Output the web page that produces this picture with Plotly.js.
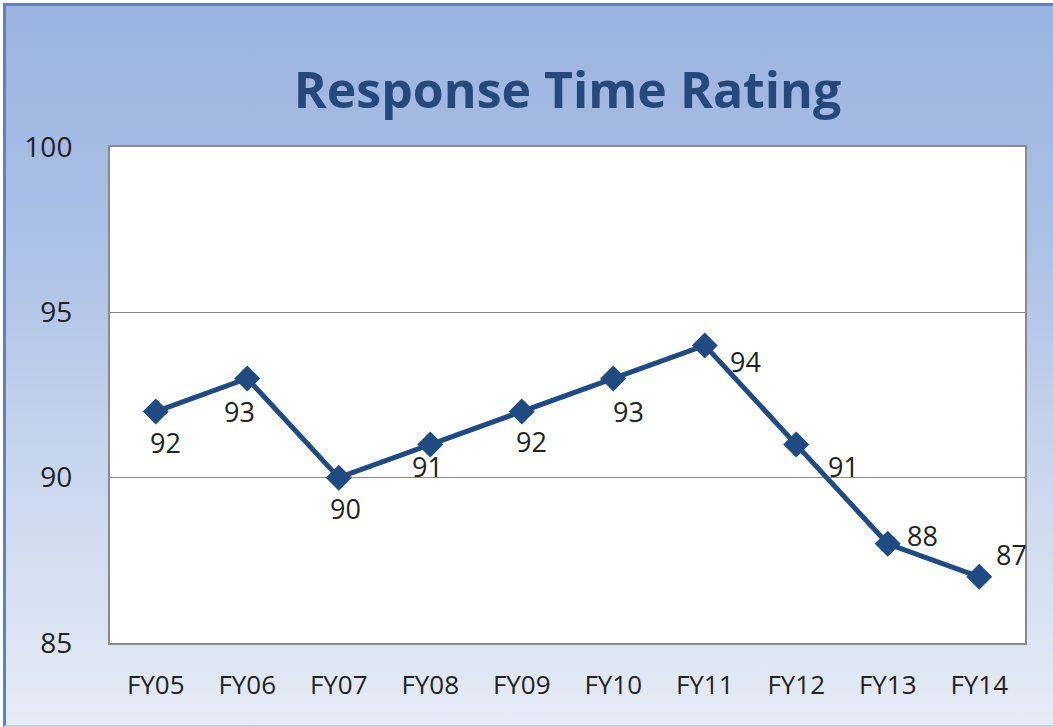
<!DOCTYPE html>
<html>
<head>
<meta charset="utf-8">
<script src="https://cdn.plot.ly/plotly-3.0.1.min.js"></script>
<style>
  html, body { margin: 0; padding: 0; }
  #wrap {
    position: relative; width: 1050px; height: 724px; box-sizing: border-box;
    background: linear-gradient(to bottom, #9bb3e1 0%, #a9bfe6 30%, #c9d6ee 65%, #e6ecf6 100%);
    border-left: 3px solid #5b82c2; border-top: 3px solid #5b82c2;
    border-bottom: 2px solid #c8cfd8;
    margin-left: 3px; margin-top: 3px;
  }
  #chart { position: absolute; left: -6px; top: -6px; width: 1053px; height: 727px; }
</style>
</head>
<body>
<div id="wrap"><div id="chart"></div></div>
<script>
const categories = ["FY05","FY06","FY07","FY08","FY09","FY10","FY11","FY12","FY13","FY14"];
const ratings = [92, 93, 90, 91, 92, 93, 94, 91, 88, 87];
const yTicks = [85, 90, 95, 100];

// label offsets in pixels (dx right, dy down) relative to each point
const labelOffsets = [[10,31],[-8,33],[7,31],[-3,22],[10,30],[15,33],[41,16],[47,22],[35,-8],[32,-22]];

const labelFont = { family: "Open Sans, Liberation Sans, sans-serif", size: 27, color: "#222" };

const trace = {
  x: categories, y: ratings, type: "scatter", mode: "lines+markers",
  line: { color: "#1f4b82", width: 5 },
  marker: { symbol: "diamond", size: 20, color: "#1f4b82" },
  cliponaxis: false, hoverinfo: "none"
};

const annotations = categories.map((c, i) => ({
  x: c, y: ratings[i], xref: "x", yref: "y", text: String(ratings[i]),
  showarrow: false, xanchor: "center", yanchor: "middle",
  xshift: labelOffsets[i][0], yshift: -labelOffsets[i][1], font: labelFont
}));

const layout = {
  width: 1053, height: 727,
  margin: { l: 110, r: 28, t: 147, b: 84 },
  paper_bgcolor: "rgba(0,0,0,0)", plot_bgcolor: "#ffffff",
  showlegend: false,
  annotations: annotations,
  title: { text: "<b>Response Time Rating</b>", x: 0.5, xref: "paper", y: 1 - 90/727, yref: "container",
           yanchor: "middle",
           font: { family: "Open Sans, Lato, sans-serif", size: 50, color: "#26497b" } },
  xaxis: { type: "category", range: [-0.5, 9.5], showgrid: false, zeroline: false, showline: true,
           linecolor: "#8a8a8a", linewidth: 2, mirror: true, ticks: "", ticklabelstandoff: 18,
           tickfont: { family: "Open Sans, Liberation Sans, sans-serif", size: 26, color: "#222" } },
  yaxis: { range: [85, 100], tickvals: yTicks, showgrid: true, gridcolor: "#8a8a8a", gridwidth: 1.3,
           zeroline: false, showline: true, linecolor: "#8a8a8a", linewidth: 2, mirror: true,
           ticks: "", ticklabelstandoff: 30,
           tickfont: { family: "Open Sans, Liberation Sans, sans-serif", size: 28, color: "#222" } }
};

Plotly.newPlot("chart", [trace], layout, { displayModeBar: false, staticPlot: true });
</script>
</body>
</html>
